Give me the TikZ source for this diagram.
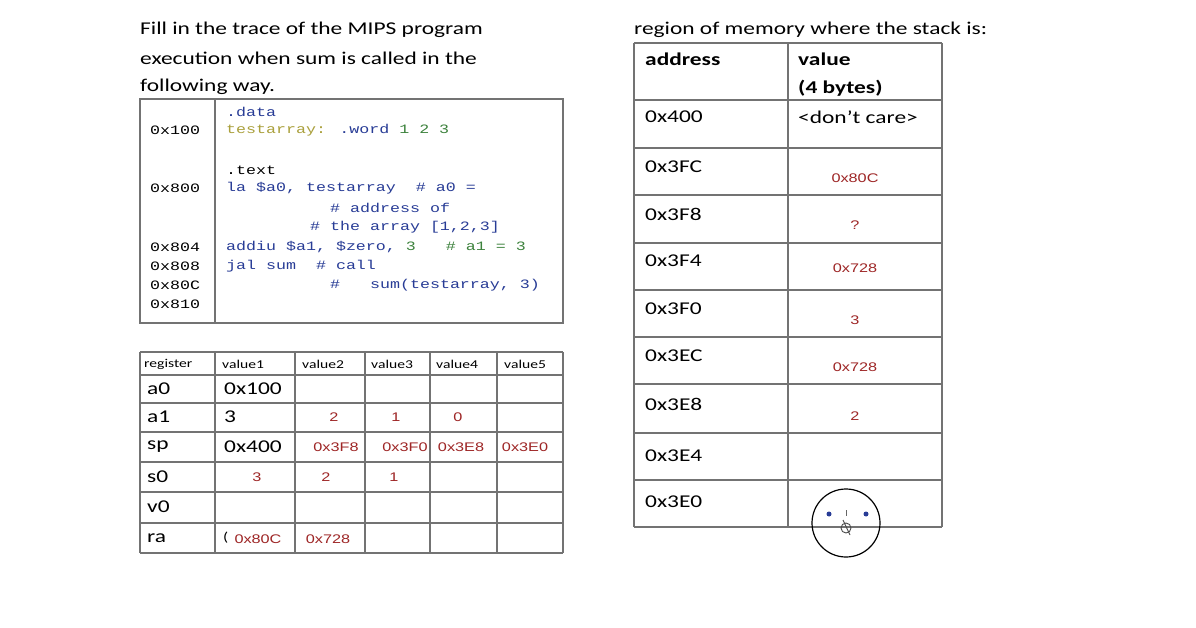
\documentclass[tikz,border=0pt]{standalone}
\usepackage{fontspec}
\setmainfont{Carlito}[FakeStretch=1.3]
\newfontfamily\codefont{Liberation Mono}[FakeStretch=1.3]
\newfontfamily\arialf{Liberation Sans}[FakeStretch=1.3]
\begin{document}
\begin{tikzpicture}[x=1pt,y=-1pt,
  grid/.style={draw=black!55,line width=1.2pt},
  body/.style={font=\fontsize{18}{18}\selectfont,anchor=west,inner sep=0},
  code/.style={font=\codefont\fontsize{12.8}{12.8}\selectfont,anchor=west,inner sep=0},
  hand/.style={font=\arialf\fontsize{12.5}{12.5}\selectfont,text=red!55!black!85,inner sep=0},
  small/.style={font=\fontsize{12}{12}\selectfont,anchor=west,inner sep=0}]
\useasboundingbox[fill=white] (0,0) rectangle (1196,628);
\definecolor{kw}{RGB}{40,60,150}
\definecolor{lab}{RGB}{170,160,60}
\definecolor{num}{RGB}{60,130,60}
% title texts
\node[body] (t1) at (140,30) {Fill in the trace of the MIPS program};
\node[body] (t2) at (140,58) {execution when sum is called in the};
\node[body] (t3) at (140,87) {following way.};
\node[body] (t4) at (634,30) {region of memory where the stack is:};
% code box
\draw[grid] (140,99) rectangle (563,323);
\draw[grid] (215,99) -- (215,323);
\foreach \a/\y in {0x100/130,0x800/188,0x804/247,0x808/266,0x80C/285,0x810/304}
  \node[code] at (150,\y) {\a};
\node[code,text=kw] (c1) at (226,112) {.data};
\node[code] (c2) at (226,130) {\textcolor{lab}{testarray:} \textcolor{kw}{.word} \textcolor{num}{1 2 3}};
\node[code] (c3) at (226,170) {.text};
\node[code,text=kw] (c4) at (226,188) {la \$a0, testarray\ \ \# a0 =};
\node[code,text=kw] (c5) at (330,208) {\# address of};
\node[code,text=kw] (c6) at (310,227) {\# the array [1,2,3]};
\node[code,text=kw] (c7) at (226,247) {addiu \$a1, \$zero, \textcolor{num}{3}\ \ \ \textcolor{num}{\# a1 = 3}};
\node[code,text=kw] (c8) at (226,266) {jal sum\ \ \# call};
\node[code,text=kw] (c9) at (330,285) {\#\ \ \ sum(testarray, 3)};
% register table
\foreach \x in {140,215,295,365,430,497,563} \draw[grid] (\x,352) -- (\x,553);
\foreach \y in {352,375,403,432,462,492,523,553} \draw[grid] (140,\y) -- (563,\y);
\node[small] at (144,364) {register};
\foreach \x/\t in {222/value1,302/value2,371/value3,436/value4,504/value5}
  \node[small] at (\x,364) {\t};
\foreach \r/\y in {a0/389,a1/417,sp/447,s0/477,v0/507,ra/538}
  \node[body] at (147,\y) {\r};
\node[body] at (224,389) {0x100};
\node[body] at (224,417) {3};
\node[body] at (224,447) {0x400};
\node[hand] at (334,417) {2};
\node[hand] at (396,417) {1};
\node[hand] at (458,417) {0};
\node[hand] at (336,447) {0x3F8};
\node[hand] at (405,447) {0x3F0};
\node[hand] at (461,447) {0x3E8};
\node[hand] at (525,447) {0x3E0};
\node[hand] at (257,477) {3};
\node[hand] at (326,477) {2};
\node[hand] at (394,477) {1};
\node[body] at (223,538) {\fontsize{13}{13}\selectfont(};
\node[hand] at (258,539) {0x80C};
\node[hand] at (328,539) {0x728};
% memory table
\foreach \x in {634,788,942} \draw[grid] (\x,43) -- (\x,527);
\foreach \y in {43,100,148,195,243,290,337,384,433,480,527} \draw[grid] (634,\y) -- (942,\y);
\node[body,font=\bfseries\fontsize{18}{18}\selectfont] at (645,59) {address};
\node[body,font=\bfseries\fontsize{18}{18}\selectfont] at (798,59) {value};
\node[body,font=\bfseries\fontsize{18}{18}\selectfont] at (798,88) {(4 bytes)};
\foreach \a/\y in {0x400/117,0x3FC/167,0x3F8/214,0x3F4/261,0x3F0/309,0x3EC/356,0x3E8/404,0x3E4/456,0x3E0/502}
  \node[body] at (645,\y) {\a};
\node[body] at (798,117) {<don’t care>};
\node[hand] at (855,178) {0x80C};
\node[hand] at (855,225) {?};
\node[hand] at (855,268) {0x728};
\node[hand] at (855,320) {3};
\node[hand] at (855,367) {0x728};
\node[hand] at (855,416) {2};
% circle doodle
\draw[line width=1.2pt] (846,523) circle (34);
\fill[kw] (829,514) circle (2.5);
\fill[kw] (866,514) circle (2.5);
\draw[black!60] (846,510) -- (846,516);
\draw[black!70,line width=0.9pt] (846,528) circle (5);
\draw[black!70,line width=0.9pt] (843,520) -- (850,535);
\end{tikzpicture}
\end{document}
